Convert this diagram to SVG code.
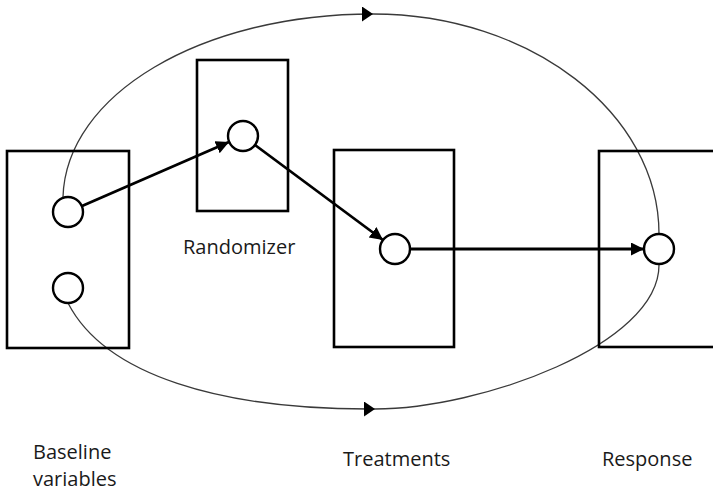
<svg xmlns="http://www.w3.org/2000/svg" width="713" height="492" viewBox="0 0 713 492">
  <style>
    .box { fill: none; stroke: #000; stroke-width: 2.6; }
    .node { fill: #fff; stroke: #000; stroke-width: 2.4; }
    .loop { fill: none; stroke: #3a3a3a; stroke-width: 1.3; }
    .flow { fill: none; stroke: #000; stroke-width: 2.8; }
    .label { font-family: "Open Sans", "Liberation Sans", sans-serif; font-size: 20px; fill: #1a1a1a; }
  </style>
  <defs>
    <marker id="thinHead" markerUnits="userSpaceOnUse" markerWidth="12" markerHeight="16" refX="11" refY="7.5" orient="auto">
      <path d="M0,0 L11,7.5 L0,15 z" fill="#000"/>
    </marker>
    <marker id="flowHead" markerUnits="userSpaceOnUse" markerWidth="14" markerHeight="14" refX="13" refY="6.5" orient="auto">
      <path d="M0,0 L13,6.5 L0,13 z" fill="#000"/>
    </marker>
  </defs>
  <rect width="713" height="492" fill="#fff"/>

  <!-- closed loop around the study, drawn as four arcs -->
  <g id="loop">
    <path class="loop" d="M63,197 C66,95 200,14 373,14" marker-end="url(#thinHead)"/>
    <path class="loop" d="M373,14 C530,14 659,113 659,234"/>
    <path class="loop" d="M68,303 C105,375 220,410 375,409" marker-end="url(#thinHead)"/>
    <path class="loop" d="M375,409 C480,409 659,345 659,265"/>
  </g>

  <g id="baseline">
    <rect class="box" x="7" y="151" width="122" height="197"/>
    <circle class="node" cx="68" cy="212" r="15"/>
    <circle class="node" cx="68" cy="288" r="15"/>
    <text class="label" x="33" y="459">Baseline</text>
    <text class="label" x="33" y="486">variables</text>
  </g>

  <g id="randomizer">
    <rect class="box" x="197" y="60" width="91" height="151"/>
    <circle class="node" cx="243" cy="136" r="15"/>
    <text class="label" x="183" y="254">Randomizer</text>
  </g>

  <g id="treatments">
    <rect class="box" x="334" y="150" width="120" height="197"/>
    <circle class="node" cx="395" cy="249" r="15"/>
    <text class="label" x="343" y="466">Treatments</text>
  </g>

  <g id="response">
    <rect class="box" x="599" y="151" width="130" height="196"/>
    <circle class="node" cx="659" cy="249" r="15"/>
    <text class="label" x="602" y="466">Response</text>
  </g>

  <g id="connectors">
    <path class="flow" d="M82,206 L229,142" marker-end="url(#flowHead)"/>
    <path class="flow" d="M255,145 L383,240" marker-end="url(#flowHead)"/>
    <path class="flow" d="M410,249 L644,249" marker-end="url(#flowHead)"/>
  </g>
</svg>
